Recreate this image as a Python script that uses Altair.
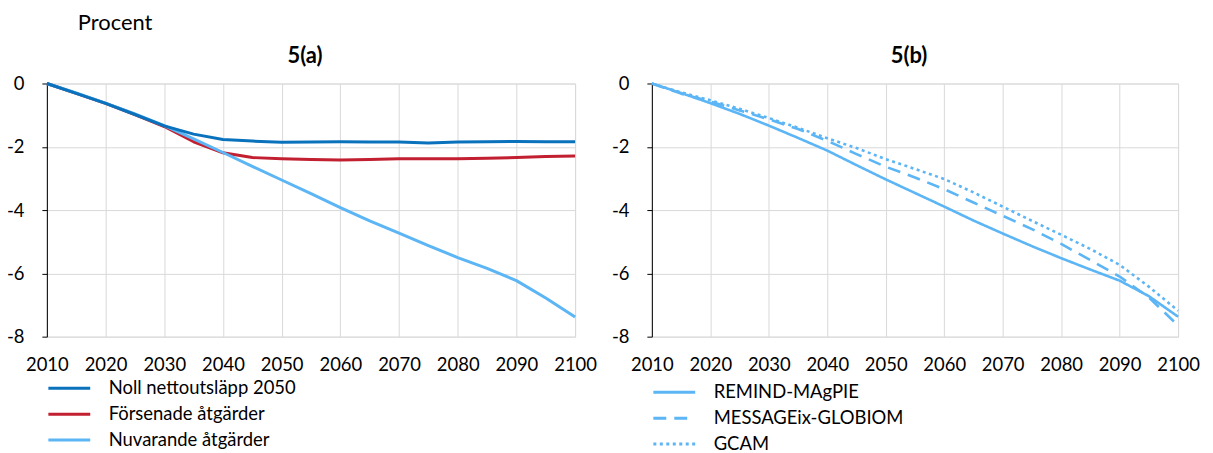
import altair as alt
import pandas as pd

# ---------------- data ----------------
years = [2010, 2015, 2020, 2025, 2030, 2035, 2040, 2045, 2050, 2055,
         2060, 2065, 2070, 2075, 2080, 2085, 2090, 2095, 2100]

noll = [0.0, -0.31, -0.63, -0.98, -1.34, -1.6, -1.77, -1.82, -1.86, -1.85,
        -1.84, -1.85, -1.85, -1.88, -1.85, -1.84, -1.83, -1.84, -1.84]
forsenade = [0.0, -0.31, -0.63, -0.98, -1.36, -1.84, -2.19, -2.34, -2.38, -2.4,
             -2.42, -2.4, -2.38, -2.38, -2.38, -2.36, -2.34, -2.31, -2.29]
nuvarande = [0.0, -0.3, -0.62, -0.96, -1.33, -1.75, -2.18, -2.62, -3.05, -3.48,
             -3.92, -4.34, -4.73, -5.12, -5.5, -5.84, -6.23, -6.78, -7.38]

remind = [0.0, -0.3, -0.62, -0.96, -1.33, -1.72, -2.12, -2.58, -3.03, -3.46,
          -3.89, -4.33, -4.74, -5.14, -5.52, -5.88, -6.23, -6.72, -7.37]
message = [0.0, -0.32, -0.57, -0.85, -1.13, -1.44, -1.81, -2.23, -2.63, -2.97,
           -3.34, -3.76, -4.18, -4.6, -5.07, -5.58, -6.1, -6.76, -7.65]
gcam = [0.0, -0.28, -0.53, -0.8, -1.09, -1.4, -1.73, -2.04, -2.39, -2.7,
        -3.02, -3.44, -3.89, -4.34, -4.78, -5.23, -5.73, -6.42, -7.18]

series_a = ["Noll nettoutsläpp 2050", "Försenade åtgärder", "Nuvarande åtgärder"]
colors_a = ["#0A72BC", "#C21F30", "#5CB5F4"]
series_b = ["REMIND-MAgPIE", "MESSAGEix-GLOBIOM", "GCAM"]
colors_b = ["#5CB5F4", "#5CB5F4", "#5CB5F4"]
dashes_b = [[1, 0], [13, 8], [3, 3.5]]

x_ticks = [2010, 2020, 2030, 2040, 2050, 2060, 2070, 2080, 2090, 2100]
y_ticks = [-8, -6, -4, -2, 0]

unit_label = "Procent"
title_a = "5(a)"
title_b = "5(b)"

FONT = "Lato"
TICK_FS = 18.5
LEG_FS = 18.5

# ---------------- tables ----------------
def long_table(names, values):
    rows = []
    for name, vals in zip(names, values):
        for yr, v in zip(years, vals):
            rows.append({"year": yr, "value": v, "series": name})
    return pd.DataFrame(rows)

# draw order: red, light blue, dark blue on top
df_a = long_table([series_a[1], series_a[2], series_a[0]], [forsenade, nuvarande, noll])
df_b = long_table([series_b[2], series_b[1], series_b[0]], [gcam, message, remind])

W_A, W_B, H = 530, 528, 254

x_scale = alt.Scale(domain=[2010, 2100], nice=False, zero=False)
y_scale = alt.Scale(domain=[-8, 0], nice=False, zero=False)


def x_axis():
    return alt.Axis(values=x_ticks, format="d", grid=True, gridColor="#D9D9D9",
                    gridWidth=1, domain=False, ticks=False, labelFontSize=TICK_FS,
                    labelPadding=19, labelColor="black", labelFont=FONT,
                    labelFlush=False, labelOverlap=False, title=None)


def y_axis():
    return alt.Axis(values=y_ticks, labelExpr="'' + datum.value", grid=True,
                    gridColor="#D9D9D9", gridWidth=1, domain=True,
                    domainColor="black", domainWidth=1, ticks=True,
                    tickColor="black", tickSize=5, labelFontSize=TICK_FS,
                    labelPadding=18, labelColor="black", labelFont=FONT,
                    labelOverlap=False, title=None)


def legend(ly):
    return alt.Legend(orient="none", legendX=0, legendY=ly, title=None,
                      symbolType="stroke", symbolSize=1764, symbolStrokeWidth=3,
                      labelFontSize=LEG_FS, labelFont=FONT, labelColor="black",
                      labelOffset=17, clipHeight=25.5, rowPadding=0, padding=0,
                      direction="vertical", labelLimit=400)


lines_a = alt.Chart(df_a).mark_line(strokeWidth=3, strokeJoin="round").encode(
    x=alt.X("year:Q", scale=x_scale, axis=x_axis()),
    y=alt.Y("value:Q", scale=y_scale, axis=y_axis()),
    color=alt.Color("series:N", scale=alt.Scale(domain=series_a, range=colors_a),
                    legend=legend(293)),
)

lines_b = alt.Chart(df_b).mark_line(strokeWidth=2.6, strokeJoin="round").encode(
    x=alt.X("year:Q", scale=x_scale, axis=x_axis()),
    y=alt.Y("value:Q", scale=y_scale, axis=y_axis()),
    color=alt.Color("series:N", scale=alt.Scale(domain=series_b, range=colors_b),
                    legend=legend(297)),
    strokeDash=alt.StrokeDash("series:N",
                              scale=alt.Scale(domain=series_b, range=dashes_b),
                              legend=legend(297)),
)

unit_text = alt.Chart(pd.DataFrame({"t": [unit_label]})).mark_text(
    align="left", baseline="top", fontSize=22, font=FONT, color="black"
).encode(text="t:N", x=alt.value(31), y=alt.value(-71))

ttl_a = alt.Chart(pd.DataFrame({"t": [title_a]})).mark_text(
    align="center", baseline="middle", fontSize=22, font=FONT,
    fontWeight="bold", color="black"
).encode(text="t:N", x=alt.value(W_A / 2 - 6), y=alt.value(-28))

ttl_b = alt.Chart(pd.DataFrame({"t": [title_b]})).mark_text(
    align="center", baseline="middle", fontSize=22, font=FONT,
    fontWeight="bold", color="black"
).encode(text="t:N", x=alt.value(W_B / 2 - 6), y=alt.value(-28))

left = alt.layer(lines_a, unit_text, ttl_a).properties(width=W_A, height=H)
right = alt.layer(lines_b, ttl_b).properties(width=W_B, height=H)

chart = alt.hconcat(left, right, spacing=77, bounds="flush").resolve_scale(
    color="independent", strokeDash="independent"
).resolve_legend(
    color="independent", strokeDash="independent"
).properties(
    padding={"left": -3, "top": 2, "right": 5, "bottom": 0}
).configure_view(stroke="transparent").configure(font=FONT)

chart.save("out.html", embed_options={"renderer": "svg", "actions": False})
